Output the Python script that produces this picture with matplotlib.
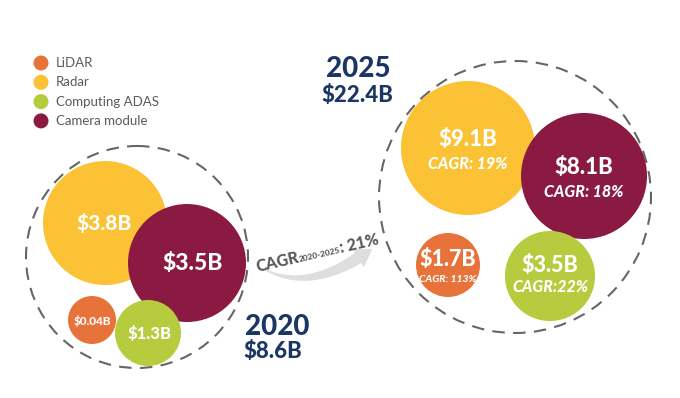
import numpy as np
import matplotlib
matplotlib.use('Agg')
import matplotlib.pyplot as plt
from matplotlib.patches import Circle, Polygon

plt.rcParams['font.family'] = ['Lato', 'DejaVu Sans']

# data
SEGMENTS = ['LiDAR', 'Radar', 'Computing ADAS', 'Camera module']
COLORS = ['#E8733A', '#FAC234', '#B7CB3F', '#8B1A43']
VALUES_2020 = ['$0.04B', '$3.8B', '$1.3B', '$3.5B']
VALUES_2025 = ['$1.7B', '$9.1B', '$3.5B', '$8.1B']
CAGR_2025 = ['CAGR: 113%', 'CAGR: 19%', 'CAGR:22%', 'CAGR: 18%']
YEARS = ['2020', '2025']
TOTALS = ['$8.6B', '$22.4B']
OVERALL_CAGR = ['CAGR', '2020-2025', ': 21%']

# layout (pixel coords, y down)
POS_2020 = [(92, 320), (105, 223), (148, 333), (187, 263)]
R_2020 = [24, 62, 33, 59]
LBL_2020 = [(92, 321), (104, 223), (150, 334), (193, 264)]
FS_2020 = [8.5, 15, 12, 16.5]
POS_2025 = [(448, 265), (468, 148), (550, 276), (584, 176)]
R_2025 = [32, 67, 45, 63]
FS_2025 = [15.5, 16, 15.5, 16]
FS_CAGR = [7.5, 11.5, 11.5, 11.5]
LABEL_DY = [(-5, 15), (-8, 16), (-10, 11), (-9, 16)]
ORDER = [1, 3, 0, 2]  # draw order so camera sits over radar

NAVY = '#1C3664'
GREY = '#666666'

fig = plt.figure(figsize=(6.8, 3.98), dpi=100)
ax = fig.add_axes([0, 0, 1, 1])
ax.set_xlim(0, 680)
ax.set_ylim(398, 0)
ax.axis('off')

# dashed outer circles
ax.add_patch(Circle((137, 257), 111, fill=False, ec=GREY, lw=1.5, ls=(0, (6, 4)), zorder=1))
ax.add_patch(Circle((515, 197), 136, fill=False, ec=GREY, lw=1.5, ls=(0, (6, 4)), zorder=1))

# 2020 bubbles
for z, i in enumerate(ORDER):
    ax.add_patch(Circle(POS_2020[i], R_2020[i], color=COLORS[i], lw=0, zorder=2 + z))
    ax.text(LBL_2020[i][0], LBL_2020[i][1], VALUES_2020[i], color='white', fontsize=FS_2020[i],
            fontweight='black', ha='center', va='center', zorder=10)

# 2025 bubbles
for z, i in enumerate(ORDER):
    cx, cy = POS_2025[i]
    ax.add_patch(Circle((cx, cy), R_2025[i], color=COLORS[i], lw=0, zorder=2 + z))
    dv, dc = LABEL_DY[i]
    ax.text(cx, cy + dv, VALUES_2025[i], color='white', fontsize=FS_2025[i],
            fontweight='black', ha='center', va='center', zorder=10)
    ax.text(cx, cy + dc, CAGR_2025[i], color='white', fontsize=FS_CAGR[i],
            fontweight='black', fontstyle='italic', ha='center', va='center', zorder=10)

# legend
for k, (name, col) in enumerate(zip(SEGMENTS, COLORS)):
    y = 63 + k * 19.3
    ax.add_patch(Circle((41, y), 7.5, color=col, lw=0))
    ax.text(56, y, name, fontsize=9.5, color='#5A5A5A', va='center', ha='left')

# year totals
ax.text(277, 327, YEARS[0], fontsize=20, fontweight='black', color=NAVY, ha='center', va='center')
ax.text(273, 351, TOTALS[0], fontsize=16, fontweight='black', color=NAVY, ha='center', va='center')
ax.text(358, 69, YEARS[1], fontsize=20, fontweight='black', color=NAVY, ha='center', va='center')
ax.text(357, 95, TOTALS[1], fontsize=16, fontweight='black', color=NAVY, ha='center', va='center')

# swoosh arrow
p0, p1, p2 = np.array([262., 268.]), np.array([305., 292.]), np.array([358., 258.])
t = np.linspace(0, 1, 60)[:, None]
curve = (1 - t) ** 2 * p0 + 2 * (1 - t) * t * p1 + t ** 2 * p2
tang = np.gradient(curve, axis=0)
tang /= np.linalg.norm(tang, axis=1)[:, None]
norm = np.column_stack([-tang[:, 1], tang[:, 0]])
half = (0.5 + 5.5 * t.ravel())[:, None]
upper = curve + norm * half
lower = curve - norm * half
end_t, end_n = tang[-1], norm[-1]
head = [p2 + end_n * 11, p2 + end_t * 17, p2 - end_n * 11]
shape = np.vstack([upper, head, lower[::-1]])
ax.add_patch(Polygon(shape, closed=True, color='#DEDEDE', lw=0, zorder=1))

# rotated CAGR text along the arrow
renderer = fig.canvas.get_renderer()
angle = 13
x, y = 257, 272
for s, size in zip(OVERALL_CAGR, [11.5, 6, 11.5]):
    txt = ax.text(x, y, s, fontsize=size, fontweight='black', color='#585858',
                  ha='left', va='baseline', rotation=0, rotation_mode='anchor', zorder=11)
    w = txt.get_window_extent(renderer).width
    txt.set_rotation(angle)
    x += w * np.cos(np.radians(angle))
    y -= w * np.sin(np.radians(angle))

fig.savefig('out.png', dpi=100)
